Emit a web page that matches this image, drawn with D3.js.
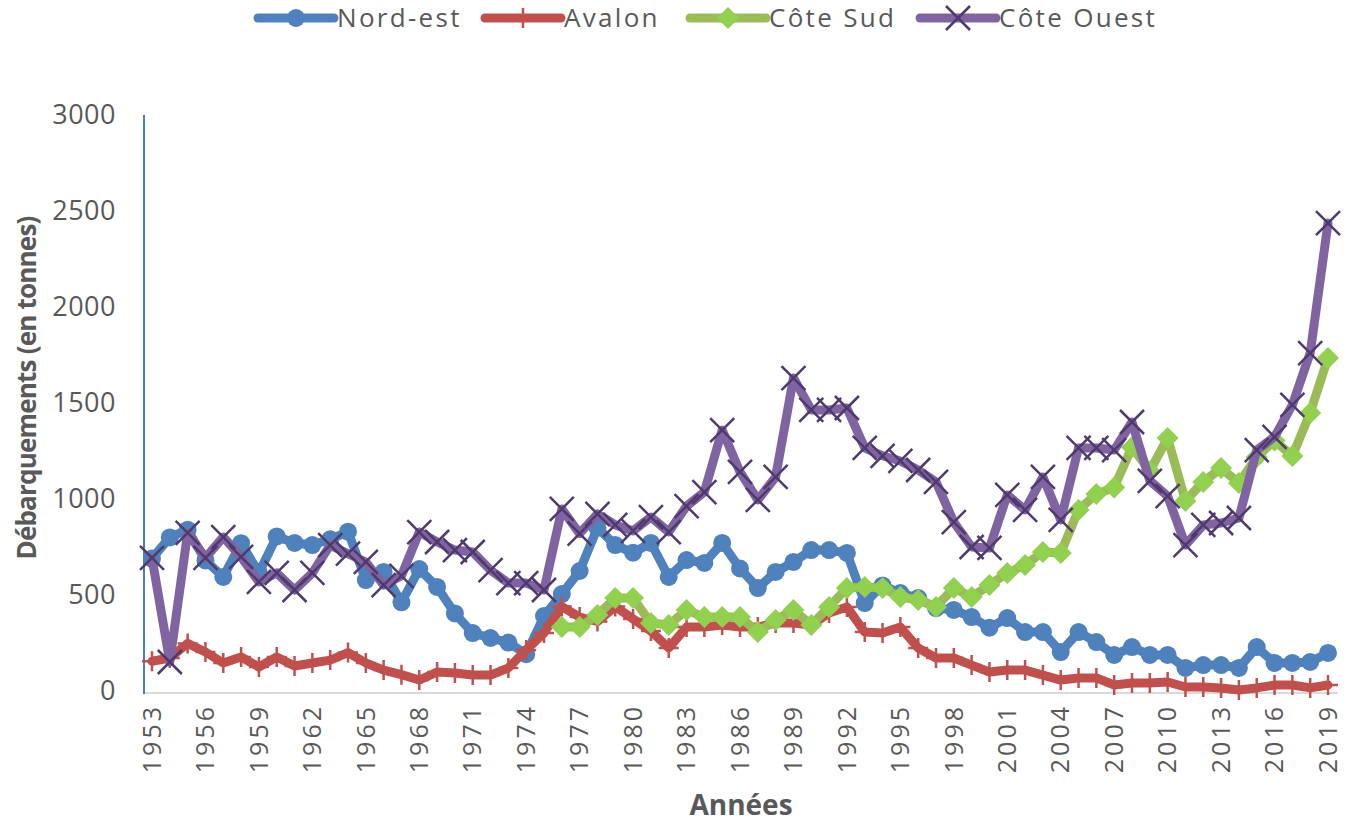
<!DOCTYPE html>
<html>
<head>
<meta charset="utf-8">
<script src="https://cdn.jsdelivr.net/npm/d3@7"></script>
<style>
  body { margin: 0; background: #fff; }
  svg text { font-family: "Open Sans", "Noto Sans", sans-serif; fill: #595959; }
</style>
</head>
<body>
<div id="chart"></div>
<script>
var years = d3.range(1953, 2020);
var tickYears = d3.range(1953, 2020, 3);
var yTicks = [0, 500, 1000, 1500, 2000, 2500, 3000];

var nordEst = [690, 800, 840, 680, 594, 770, 615, 805, 771, 760, 790, 830, 578, 620, 462, 635,
    542, 404, 302, 276, 252, 192, 390, 505, 625, 850, 760, 720, 771, 594, 682, 667, 771, 638,
    536, 620, 672, 734, 734, 719, 458, 550, 510, 484, 432, 422, 385, 330, 380, 307, 307, 203,
    307, 255, 188, 229, 188, 188, 120, 135, 135, 120, 229, 146, 146, 151, 198];

var avalon = [155, 172, 248, 203, 146, 177, 125, 177, 130, 146, 161, 200, 146, 109, 85, 57,
    99, 94, 83, 83, 120, 214, 302, 440, 385, 362, 440, 375, 312, 224, 333, 333, 344, 333,
    333, 354, 354, 344, 406, 438, 307, 302, 333, 224, 172, 172, 135, 99, 109, 109, 83, 57,
    68, 68, 31, 42, 42, 47, 21, 21, 16, 5, 16, 31, 31, 16, 31];

var coteSud = [null, null, null, null, null, null, null, null, null, null, null, null, null, null, null, null,
    null, null, null, null, null, null, null, 333, 333, 396, 484, 484, 354, 344, 422, 385, 385, 385,
    307, 370, 422, 344, 438, 536, 542, 536, 490, 474, 438, 536, 490, 552, 614, 656, 724, 719,
    943, 1026, 1060, 1270, 1145, 1318, 990, 1089, 1161, 1083, 1219, 1305, 1224, 1448, 1735];

var coteOuest = [693, 151, 823, 693, 802, 698, 568, 615, 526, 615, 760, 715, 672, 552, 600, 828,
    776, 734, 724, 630, 562, 562, 526, 948, 820, 922, 865, 834, 906, 828, 963, 1036, 1359, 1141,
    995, 1115, 1630, 1464, 1464, 1474, 1266, 1225, 1198, 1151, 1089, 880, 750, 745, 1021, 943, 1115, 891,
    1266, 1266, 1255, 1401, 1095, 1015, 760, 865, 875, 901, 1255, 1323, 1490, 1760, 2437];

var seriesNames = ["Nord-est", "Avalon", "Côte Sud", "Côte Ouest"];
var seriesValues = [nordEst, avalon, coteSud, coteOuest];
var lineColors = ["#4f81bd", "#c0504d", "#9bbb59", "#8064a2"];
var markerTypes = ["circle", "plus", "diamond", "cross"];

var width = 1356, height = 827;

var svg = d3.select("#chart").append("svg")
    .attr("width", width)
    .attr("height", height);

var x = d3.scalePoint()
    .domain(years)
    .range([152, 1328]);

var y = d3.scaleLinear()
    .domain([0, 3000])
    .range([691, 115]);

// axes
svg.append("line")
    .attr("x1", 144).attr("x2", 1338)
    .attr("y1", y(0) + 2).attr("y2", y(0) + 2)
    .attr("stroke", "#d9d9d9").attr("stroke-width", 2);

svg.append("line")
    .attr("x1", 144).attr("x2", 144)
    .attr("y1", y(3000)).attr("y2", y(0) + 3)
    .attr("stroke", "#4a7ebb").attr("stroke-width", 2);

svg.selectAll(".ytick")
    .data(yTicks)
    .enter().append("text")
    .attr("class", "ytick")
    .attr("x", 116)
    .attr("y", function(d) { return y(d); })
    .attr("dy", "0.35em")
    .attr("text-anchor", "end")
    .style("font-size", "27px")
    .style("letter-spacing", "0.5px")
    .text(function(d) { return d; });

svg.selectAll(".xtick")
    .data(tickYears)
    .enter().append("text")
    .attr("class", "xtick")
    .attr("transform", function(d) { return "translate(" + x(d) + ",704) rotate(-90)"; })
    .attr("dy", "0.35em")
    .attr("text-anchor", "end")
    .style("font-size", "25px")
    .style("letter-spacing", "3px")
    .text(function(d) { return d; });

svg.append("text")
    .attr("transform", "translate(27,388) rotate(-90)")
    .attr("text-anchor", "middle")
    .attr("dy", "0.35em")
    .style("font-size", "26px")
    .style("font-weight", "bold")
    .style("letter-spacing", "-0.8px")
    .text("Débarquements (en tonnes)");

svg.append("text")
    .attr("x", 741)
    .attr("y", 805)
    .attr("text-anchor", "middle")
    .attr("dy", "0.35em")
    .style("font-size", "28px")
    .style("font-weight", "bold")
    .text("Années");

function drawMarker(g, type, color) {
    if (type == "circle") {
        g.append("circle").attr("r", 9).attr("fill", "#4f81bd");
    } else if (type == "plus") {
        g.append("path").attr("d", "M0,-10V10M-10,0H10")
            .attr("stroke", color).attr("stroke-width", 2.5).attr("fill", "none");
    } else if (type == "diamond") {
        g.append("path").attr("d", "M0,-11L11,0L0,11L-11,0Z").attr("fill", "#92d050");
    } else {
        g.append("path").attr("d", "M-12,-12L12,12M-12,12L12,-12")
            .attr("stroke", "#4f3a6e").attr("stroke-width", 2.5).attr("fill", "none");
    }
}

var line = d3.line()
    .defined(function(d) { return d.v != null; })
    .x(function(d) { return x(d.year); })
    .y(function(d) { return y(d.v); });

seriesValues.forEach(function(vals, i) {
    var pts = years.map(function(yr, j) { return { year: yr, v: vals[j] }; });
    var g = svg.append("g").attr("class", "series");
    g.append("path")
        .datum(pts)
        .attr("d", line)
        .attr("fill", "none")
        .attr("stroke", lineColors[i])
        .attr("stroke-width", 9)
        .attr("stroke-linejoin", "round")
        .attr("stroke-linecap", "round");
    g.selectAll(".m")
        .data(pts.filter(function(d) { return d.v != null; }))
        .enter().append("g")
        .attr("class", "m")
        .attr("transform", function(d) { return "translate(" + x(d.year) + "," + y(d.v) + ")"; })
        .each(function() { drawMarker(d3.select(this), markerTypes[i], lineColors[i]); });
});

// legend
var legendX = [258, 485, 690, 920];
var legend = svg.selectAll(".legend")
    .data(seriesNames)
    .enter().append("g")
    .attr("class", "legend")
    .attr("transform", function(d, i) { return "translate(" + legendX[i] + ",18)"; });

legend.append("line")
    .attr("x1", 0).attr("x2", 76)
    .attr("stroke", function(d, i) { return lineColors[i]; })
    .attr("stroke-width", 9)
    .attr("stroke-linecap", "round");

legend.each(function(d, i) {
    var m = d3.select(this).append("g").attr("transform", "translate(38,0)");
    drawMarker(m, markerTypes[i], lineColors[i]);
});

legend.append("text")
    .attr("x", 79)
    .attr("dy", "0.35em")
    .style("font-size", "26px")
    .style("letter-spacing", "2.3px")
    .text(function(d) { return d; });
</script>
</body>
</html>
